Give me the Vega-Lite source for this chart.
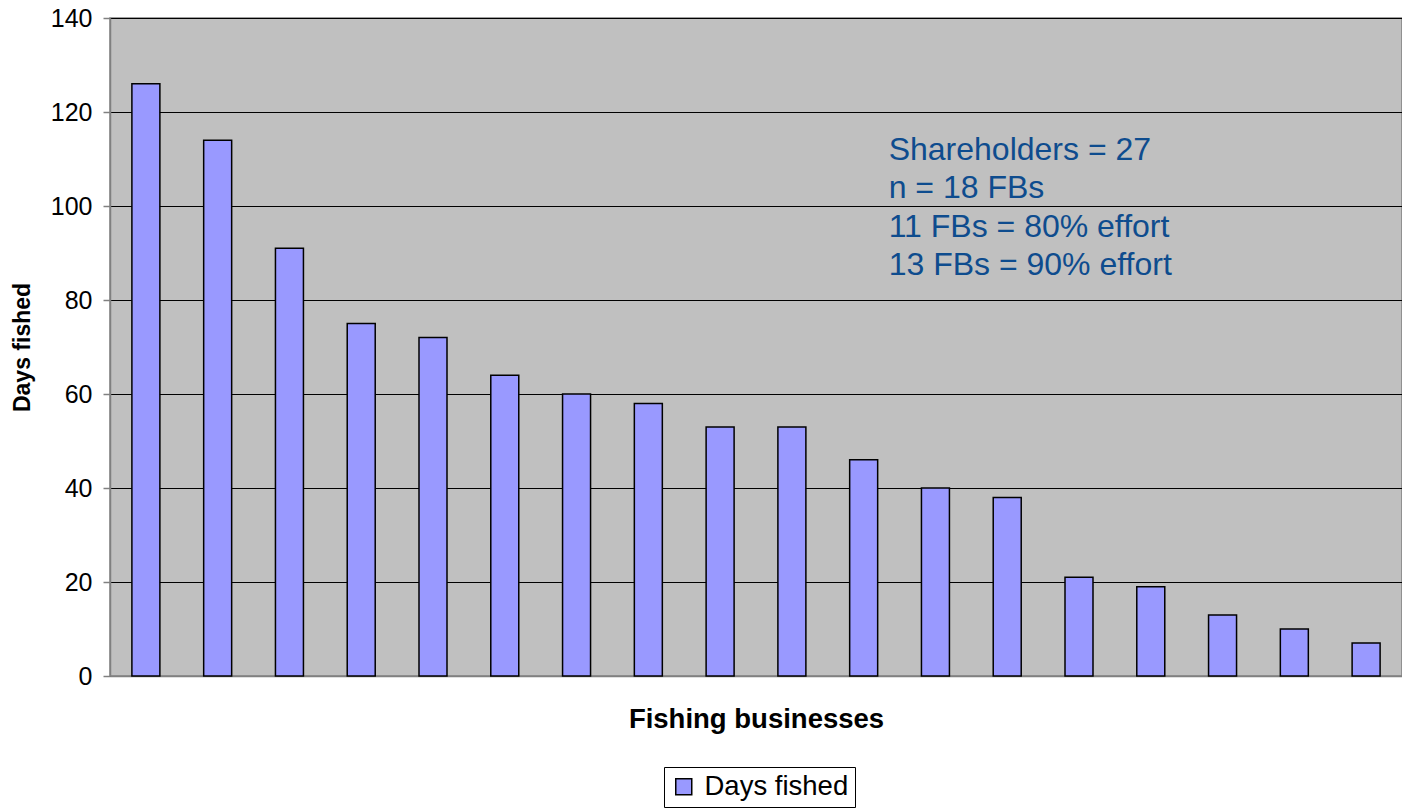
{
  "$schema": "https://vega.github.io/schema/vega-lite/v6.json",
  "width": 1292,
  "height": 658,
  "autosize": {"type": "none"},
  "padding": {"left": 110, "top": 18, "right": 0, "bottom": 134},
  "background": "white",
  "config": {
    "font": "Liberation Sans",
    "view": {"fill": "#C0C0C0", "stroke": "#808080", "strokeWidth": 1.5}
  },
  "layer": [
    {
      "data": {"values": [
        {"business": 1, "days": 126},
        {"business": 2, "days": 114},
        {"business": 3, "days": 91},
        {"business": 4, "days": 75},
        {"business": 5, "days": 72},
        {"business": 6, "days": 64},
        {"business": 7, "days": 60},
        {"business": 8, "days": 58},
        {"business": 9, "days": 53},
        {"business": 10, "days": 53},
        {"business": 11, "days": 46},
        {"business": 12, "days": 40},
        {"business": 13, "days": 38},
        {"business": 14, "days": 21},
        {"business": 15, "days": 19},
        {"business": 16, "days": 13},
        {"business": 17, "days": 10},
        {"business": 18, "days": 7}
      ]},
      "mark": {"type": "bar", "stroke": "black", "strokeWidth": 1.5},
      "encoding": {
        "x": {
          "field": "business", "type": "ordinal",
          "scale": {"paddingInner": 0.61, "paddingOuter": 0.305},
          "axis": {
            "title": "Fishing businesses", "labels": false, "ticks": false,
            "domainColor": "#808080", "domainWidth": 1.5,
            "titleFont": "Liberation Sans", "titleFontSize": 27.5, "titleFontWeight": "bold",
            "titleColor": "black", "titlePadding": 29
          }
        },
        "y": {
          "field": "days", "type": "quantitative",
          "scale": {"domain": [0, 140]},
          "axis": {
            "title": "Days fished", "values": [0, 20, 40, 60, 80, 100, 120, 140],
            "grid": true, "gridColor": "black", "gridWidth": 1, "gridOpacity": 1,
            "domainColor": "#808080", "domainWidth": 1.5,
            "tickColor": "#808080", "tickSize": 7, "tickWidth": 1.5,
            "labelFontSize": 25, "labelColor": "black", "labelPadding": 11,
            "titleFontSize": 23, "titleFontWeight": "bold", "titleColor": "black",
            "titlePadding": 16
          }
        },
        "color": {
          "datum": "Days fished",
          "scale": {"range": ["#9999FF"]},
          "legend": {
            "title": null, "orient": "none", "legendX": 554, "legendY": 749,
            "symbolType": "square", "symbolSize": 256, "symbolStrokeColor": "black",
            "symbolStrokeWidth": 1.5, "symbolFillColor": "#9999FF", "symbolOpacity": 1,
            "labelFontSize": 27.5, "labelColor": "black", "labelOffset": 7,
            "strokeColor": "black", "fillColor": "white", "padding": 6
          }
        }
      }
    },
    {
      "data": {"values": [
        {"business": 11, "y": 109.8, "label": "Shareholders = 27\nn = 18 FBs\n11 FBs = 80% effort\n13 FBs = 90% effort"}
      ]},
      "mark": {
        "type": "text", "align": "left", "baseline": "alphabetic", "lineBreak": "\n",
        "lineHeight": 38.5, "fontSize": 32, "color": "#0E4C8E", "dx": 25
      },
      "encoding": {
        "x": {"field": "business", "type": "ordinal"},
        "y": {"field": "y", "type": "quantitative"},
        "text": {"field": "label"}
      }
    }
  ]
}
